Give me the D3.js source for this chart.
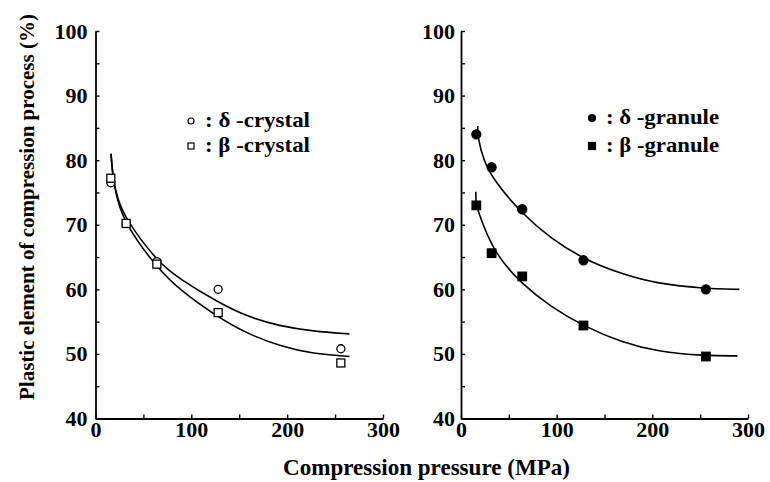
<!DOCTYPE html>
<html>
<head>
<meta charset="utf-8">
<script src="https://cdn.jsdelivr.net/npm/d3@7"></script>
<style>
  body { margin: 0; background: #fff; }
  text { font-family: "Liberation Serif", "Times New Roman", serif; font-weight: bold; fill: #000; }
</style>
</head>
<body>
<svg width="770" height="482"></svg>
<script>
// measured points (MPa, %)
const pressure = [16, 32, 64, 128, 256];
const deltaCrystal = [76.5, 70.2, 64.3, 60.0, 50.8];
const betaCrystal  = [77.2, 70.2, 63.9, 56.4, 48.6];
const deltaGranule = [84.0, 78.9, 72.4, 64.5, 60.0];
const betaGranule  = [73.0, 65.6, 62.0, 54.4, 49.6];

// fitted curves as [MPa, %]
const deltaCrystalFit = [[16.2, 81.0], [17.9, 77.6], [22.1, 74.3], [32.4, 70.6], [64.5, 64.3], [87.8, 61.6],
                         [126.5, 58.1], [157.5, 55.8], [192.3, 54.3], [227, 53.5], [265, 53.1]];
const betaCrystalFit  = [[16.2, 81.0], [17.9, 77.6], [22.1, 74.0], [32.4, 69.7], [64.5, 63.3], [87.8, 59.9],
                         [126.5, 55.8], [157.5, 53.2], [192.3, 51.2], [227, 50.0], [265, 49.6]];
const deltaGranuleFit = [[17.5, 85.3], [17.6, 83.5], [23.3, 80.1], [33.8, 76.9], [65.2, 71.5], [93, 68.0], [128.6, 64.6],
                         [169.7, 62.3], [204.5, 60.9], [255, 60.1], [291, 60.0]];
const betaGranuleFit  = [[15.5, 75.1], [15.6, 73.6], [16.5, 72.6], [33.8, 65.7], [63.8, 60.8], [93, 57.4], [127.9, 54.3],
                         [169.7, 51.7], [204.5, 50.4], [255, 49.7], [289, 49.7]];

const xTicks = [0, 50, 100, 150, 200, 250, 300];
const xLabels = [0, 100, 200, 300];
const yTicks = [40, 45, 50, 55, 60, 65, 70, 75, 80, 85, 90, 95, 100];
const yLabels = [40, 50, 60, 70, 80, 90, 100];

const serif = '"Liberation Serif", "Times New Roman", serif';
const svg = d3.select("svg");
const baseY = 418.5;

const y = d3.scaleLinear().domain([40, 100]).range([baseY, 31]);

function drawPanel(left, right, pad, series, legendX, legendY) {
    const x = d3.scaleLinear().domain([0, 300]).range([left, right]);

    const xAxis = svg.append("g")
        .attr("transform", `translate(0,${baseY})`)
        .call(d3.axisBottom(x).tickValues(xTicks).tickSizeInner(-4).tickSizeOuter(0).tickPadding(3)
            .tickFormat(d => xLabels.includes(d) ? d : ""));

    const yAxis = svg.append("g")
        .attr("transform", `translate(${left},0)`)
        .call(d3.axisLeft(y).tickValues(yTicks).tickSizeInner(-4).tickSizeOuter(0).tickPadding(pad)
            .tickFormat(d => yLabels.includes(d) ? d : ""));

    [xAxis, yAxis].forEach(a => {
        a.attr("font-family", serif).attr("font-size", 22).attr("font-weight", "bold");
        a.select(".domain").attr("stroke", "#000").attr("stroke-width", 1.8);
        a.selectAll(".tick line").attr("stroke", "#000").attr("stroke-width", 1.4);
        a.selectAll(".tick text")
            .style("font-family", serif)
            .style("font-weight", "bold")
            .style("font-size", "22px");
    });

    const line = d3.line()
        .x(d => x(d[0]))
        .y(d => y(d[1]))
        .curve(d3.curveBasis);

    series.forEach(s => {
        svg.append("path")
            .datum(s.fit)
            .attr("fill", "none")
            .attr("stroke", "#000")
            .attr("stroke-width", 1.6)
            .attr("d", line);
    });

    series.forEach(s => {
        const pts = pressure.map((p, i) => [p, s.values[i]]);
        const fill = s.filled ? "#000" : "#fff";
        if (s.shape === "circle") {
            svg.selectAll(null).data(pts).enter().append("circle")
                .attr("cx", d => x(d[0]))
                .attr("cy", d => y(d[1]))
                .attr("r", s.filled ? 4.5 : 4)
                .attr("fill", fill)
                .attr("stroke", "#000")
                .attr("stroke-width", 1.3);
        } else {
            const sz = s.filled ? 8.5 : 8;
            svg.selectAll(null).data(pts).enter().append("rect")
                .attr("x", d => x(d[0]) - sz / 2)
                .attr("y", d => y(d[1]) - sz / 2)
                .attr("width", sz)
                .attr("height", sz)
                .attr("fill", fill)
                .attr("stroke", "#000")
                .attr("stroke-width", 1.3);
        }
    });

    // legend
    series.forEach((s, i) => {
        const cy = legendY[i];
        const fill = s.filled ? "#000" : "#fff";
        if (s.shape === "circle") {
            svg.append("circle").attr("cx", legendX).attr("cy", cy).attr("r", s.filled ? 3.5 : 3)
                .attr("fill", fill).attr("stroke", "#000").attr("stroke-width", 1.2);
        } else {
            const sz = s.filled ? 7 : 6;
            svg.append("rect").attr("x", legendX - sz / 2).attr("y", cy - sz / 2)
                .attr("width", sz).attr("height", sz)
                .attr("fill", fill).attr("stroke", "#000").attr("stroke-width", 1.2);
        }
        svg.append("text")
            .attr("x", legendX + 14)
            .attr("y", cy + 6)
            .style("font-size", "21px")
            .attr("textLength", s.legendWidth)
            .attr("lengthAdjust", "spacingAndGlyphs")
            .text(s.label);
    });
}

drawPanel(95.5, 383, 8, [
    {values: deltaCrystal, fit: deltaCrystalFit, shape: "circle", filled: false, label: ": \u03b4 -crystal", legendWidth: 105},
    {values: betaCrystal, fit: betaCrystalFit, shape: "square", filled: false, label: ": \u03b2 -crystal", legendWidth: 105}
], 191, [121, 146]);

drawPanel(461, 748, 6, [
    {values: deltaGranule, fit: deltaGranuleFit, shape: "circle", filled: true, label: ": \u03b4 -granule", legendWidth: 113},
    {values: betaGranule, fit: betaGranuleFit, shape: "square", filled: true, label: ": \u03b2 -granule", legendWidth: 113}
], 592, [118, 146]);

svg.append("text")
    .attr("x", 426.5)
    .attr("y", 475)
    .attr("text-anchor", "middle")
    .style("font-size", "23px")
    .attr("textLength", 287)
    .attr("lengthAdjust", "spacingAndGlyphs")
    .text("Compression pressure (MPa)");

svg.append("text")
    .attr("transform", "translate(34,207) rotate(-90)")
    .attr("text-anchor", "middle")
    .style("font-size", "21px")
    .text("Plastic  element of compression process (%)");
</script>
</body>
</html>
